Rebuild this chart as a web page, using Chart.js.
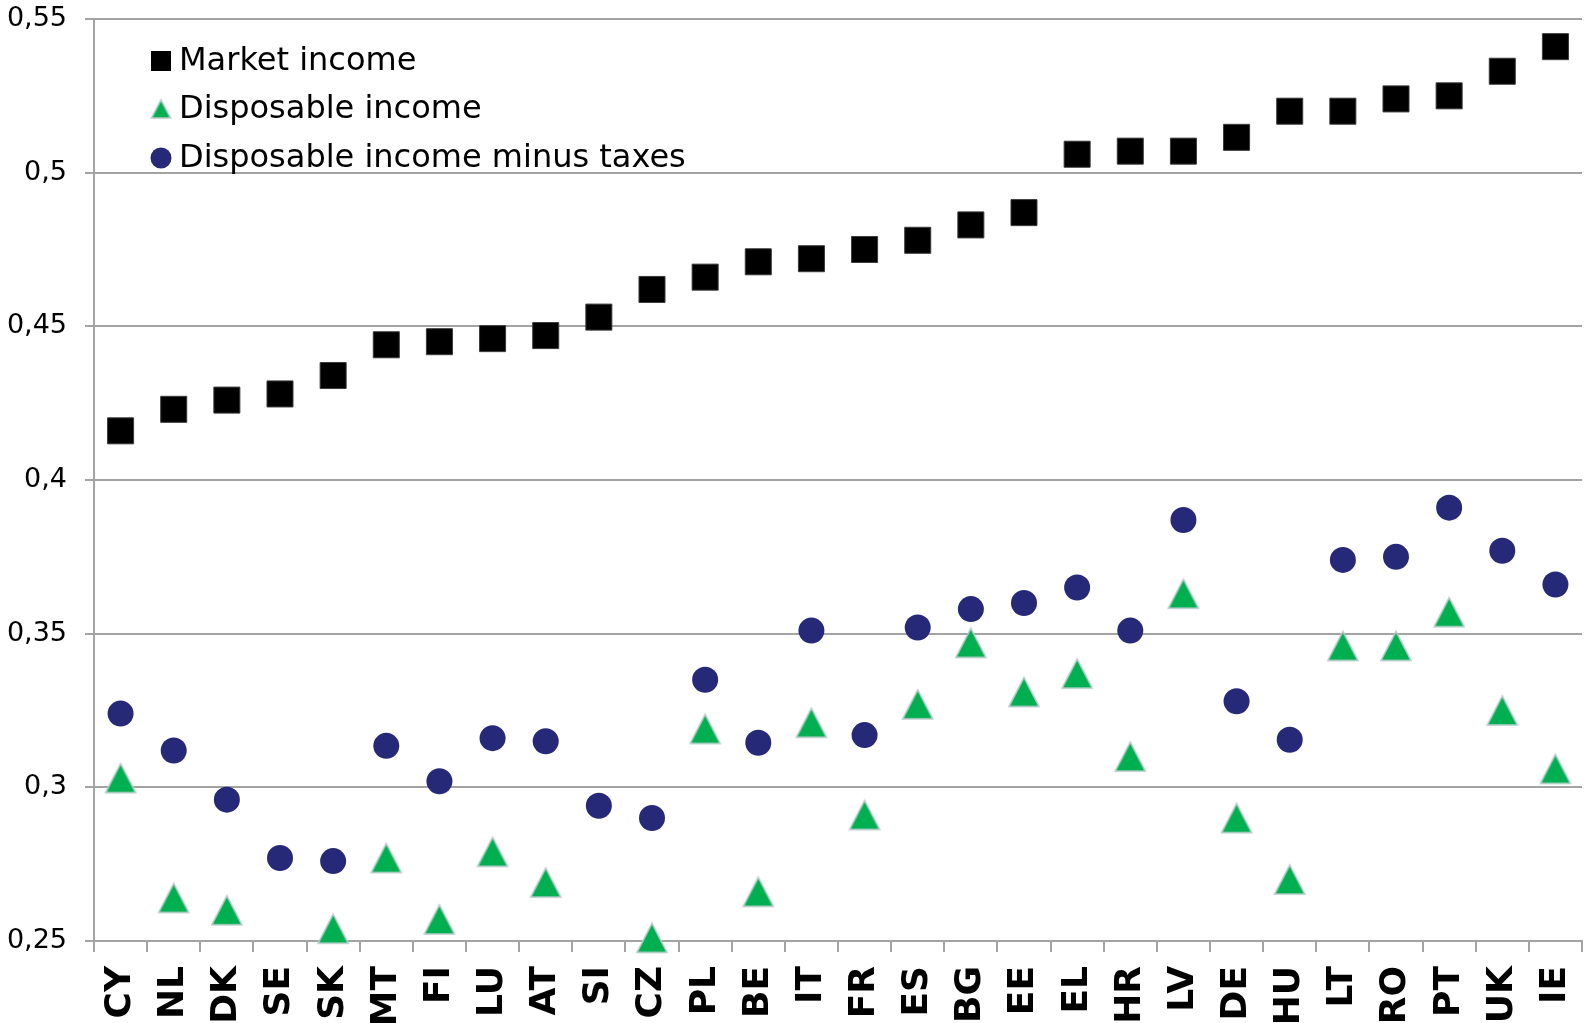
<!DOCTYPE html>
<html>
<head>
<meta charset="utf-8">
<script src="https://cdn.jsdelivr.net/npm/chart.js@4.4.1/dist/chart.umd.min.js"></script>
<style>
  html, body { margin: 0; padding: 0; background: #ffffff; }
  #wrap { width: 1585px; height: 1023px; }
</style>
</head>
<body>
<div id="wrap"><canvas id="c" width="1585" height="1023"></canvas></div>
<script>
// Gini coefficients by country, three income concepts
const countries = ['CY','NL','DK','SE','SK','MT','FI','LU','AT','SI','CZ','PL','BE','IT',
                   'FR','ES','BG','EE','EL','HR','LV','DE','HU','LT','RO','PT','UK','IE'];

const marketIncome = [0.416,0.423,0.426,0.428,0.434,0.444,0.445,0.446,0.447,0.453,0.462,0.466,0.471,0.472,
                      0.475,0.478,0.483,0.487,0.506,0.507,0.507,0.5115,0.520,0.520,0.524,0.525,0.533,0.541];

const disposableIncome = [0.303,0.264,0.260,null,0.254,0.277,0.257,0.279,0.269,null,0.251,0.319,0.266,0.321,
                          0.291,0.327,0.347,0.331,0.337,0.310,0.363,0.290,0.270,0.346,0.346,0.357,0.325,0.306];

const disposableMinusTaxes = [0.324,0.312,0.296,0.277,0.276,0.3135,0.302,0.316,0.315,0.294,0.290,0.335,0.3145,0.351,
                              0.317,0.352,0.358,0.360,0.365,0.351,0.387,0.328,0.3155,0.374,0.375,0.391,0.377,0.366];

const yTicks = [0.25, 0.3, 0.35, 0.4, 0.45, 0.5, 0.55];

const seriesNames = ['Market income', 'Disposable income', 'Disposable income minus taxes'];

const GREEN = '#00b050';
const NAVY = '#262878';
const GRID = '#a3a3a3';

// Triangle marker centred on its bounding box
function makeTriangle(w, h) {
  const cv = document.createElement('canvas');
  cv.width = w + 4; cv.height = h + 4;
  const g = cv.getContext('2d');
  g.beginPath();
  g.moveTo(cv.width / 2, 2);
  g.lineTo(cv.width - 2, h + 2);
  g.lineTo(2, h + 2);
  g.closePath();
  g.fillStyle = GREEN;
  g.fill();
  g.lineWidth = 1.6;
  g.strokeStyle = '#b7cbcb';
  g.stroke();
  return cv;
}
const triMarker = makeTriangle(30, 29);
const triLegend = makeTriangle(19, 18);

// Legend drawn inside the plot area, top-left
const insideLegend = {
  id: 'insideLegend',
  afterDraw(chart) {
    const ctx = chart.ctx;
    const mx = 161, tx = 179;
    const rows = [61, 109, 158];
    ctx.save();
    ctx.font = '32px "DejaVu Sans", sans-serif';
    ctx.textBaseline = 'middle';
    ctx.textAlign = 'left';
    // square
    ctx.fillStyle = '#000';
    ctx.fillRect(mx - 10, rows[0] - 10, 20, 20);
    // triangle
    ctx.drawImage(triLegend, mx - triLegend.width / 2, rows[1] - triLegend.height / 2);
    // circle
    ctx.beginPath();
    ctx.arc(mx, rows[2], 10.5, 0, Math.PI * 2);
    ctx.fillStyle = NAVY;
    ctx.fill();
    ctx.fillStyle = '#000';
    seriesNames.forEach((t, i) => ctx.fillText(t, tx, rows[i] + 1));
    ctx.restore();
  }
};

new Chart(document.getElementById('c'), {
  type: 'line',
  data: {
    labels: countries,
    datasets: [
      {
        label: seriesNames[0],
        data: marketIncome,
        showLine: false,
        clip: false,
        pointStyle: 'rect',
        pointRadius: 18.4,
        pointBackgroundColor: '#000000',
        pointBorderColor: '#3a3a3a',
        pointBorderWidth: 1
      },
      {
        label: seriesNames[1],
        data: disposableIncome,
        showLine: false,
        clip: false,
        pointStyle: triMarker,
        pointRadius: 16
      },
      {
        label: seriesNames[2],
        data: disposableMinusTaxes,
        showLine: false,
        clip: false,
        pointStyle: 'circle',
        pointRadius: 13,
        pointBackgroundColor: NAVY,
        pointBorderColor: NAVY,
        pointBorderWidth: 0
      }
    ]
  },
  options: {
    responsive: false,
    animation: false,
    devicePixelRatio: 1,
    layout: { autoPadding: false, padding: { top: 19, right: 3, left: 0, bottom: 0 } },
    plugins: {
      legend: { display: false },
      tooltip: { enabled: false }
    },
    scales: {
      x: {
        type: 'category',
        offset: true,
        grid: {
          offset: true,
          drawOnChartArea: false,
          drawTicks: true,
          tickLength: 11,
          color: GRID,
          lineWidth: 2
        },
        border: { display: true, color: GRID, width: 2 },
        ticks: {
          autoSkip: false,
          minRotation: 90,
          maxRotation: 90,
          padding: 14,
          color: '#000',
          font: { family: '"DejaVu Sans", sans-serif', size: 36, weight: 'bold' }
        },
        afterFit(s) {
          s.height = 82;
          s.paddingLeft = 0; s.paddingRight = 0;
        }
      },
      y: {
        min: 0.25,
        max: 0.55,
        afterBuildTicks(s) { s.ticks = yTicks.map(v => ({ value: v })); },
        grid: {
          color: GRID,
          lineWidth: 2,
          drawTicks: true,
          tickLength: 9
        },
        border: { display: true, color: GRID, width: 2 },
        ticks: {
          padding: 18,
          color: '#000',
          font: { family: '"DejaVu Sans", sans-serif', size: 27 },
          callback: v => String(Math.round(v * 100) / 100).replace('.', ',')
        },
        afterFit(s) {
          s.width = 94;
          s.paddingTop = 0; s.paddingBottom = 0;
        }
      }
    }
  },
  plugins: [insideLegend]
});
</script>
</body>
</html>
